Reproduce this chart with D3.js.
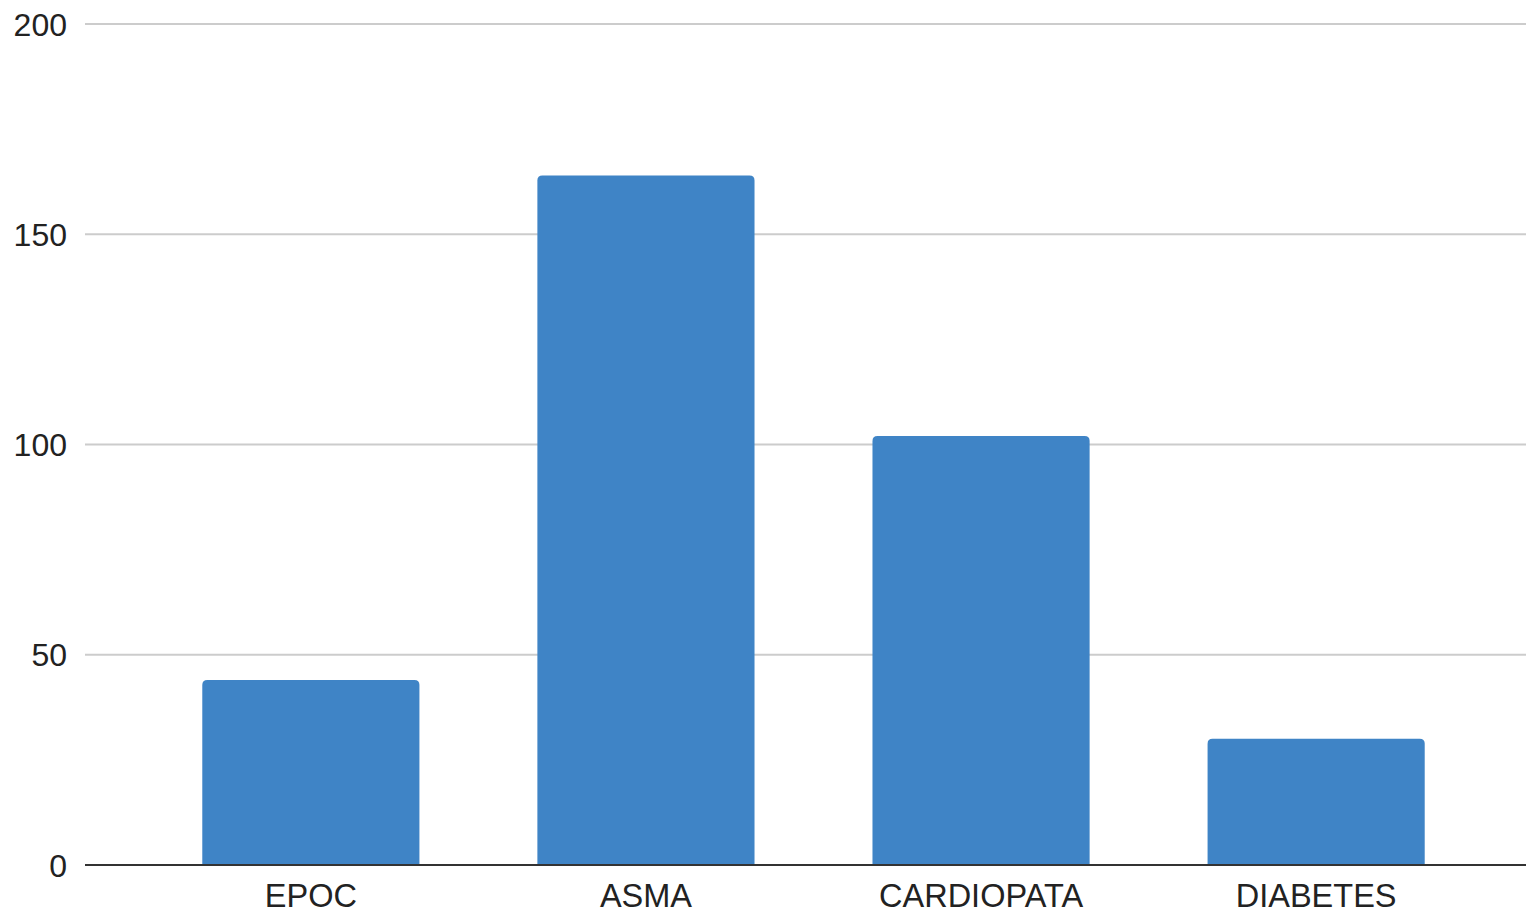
<!DOCTYPE html>
<html>
<head>
<meta charset="utf-8">
<script src="https://cdn.jsdelivr.net/npm/d3@7"></script>
<style>
  html, body { margin: 0; padding: 0; background: #fff; }
  svg { display: block; }
  text { font-family: "Liberation Sans", Arial, sans-serif; fill: #222; }
</style>
</head>
<body>
<svg id="chart" width="1526" height="913"></svg>
<script>
// Categories and counts
const categories = ["EPOC", "ASMA", "CARDIOPATA", "DIABETES"];
const values = [44, 164, 102, 30];
const yTicks = [0, 50, 100, 150, 200];

const W = 1526, H = 913;
const plot = { left: 85, right: 1542, top: 24, bottom: 865 };

const svg = d3.select("#chart");

const x = d3.scaleBand()
  .domain(categories)
  .range([plot.left, plot.right])
  .paddingInner(0.352)
  .paddingOuter(0.35);

const y = d3.scaleLinear()
  .domain([0, 200])
  .range([plot.bottom, plot.top]);

// Horizontal gridlines
svg.append("g")
  .selectAll("line")
  .data(yTicks.filter(d => d !== 0))
  .join("line")
  .attr("x1", plot.left)
  .attr("x2", plot.right)
  .attr("y1", d => y(d))
  .attr("y2", d => y(d))
  .attr("stroke", "#cccccc")
  .attr("stroke-width", 2);

// Y tick labels
svg.append("g")
  .selectAll("text")
  .data(yTicks)
  .join("text")
  .attr("x", 67)
  .attr("y", d => y(d))
  .attr("dy", "0.36em")
  .attr("text-anchor", "end")
  .style("font-size", "32px")
  .text(d => d);

// Bars with rounded top corners
const r = 5;
function barPath(x0, w, yTop, yBase) {
  return `M${x0},${yBase}V${yTop + r}Q${x0},${yTop} ${x0 + r},${yTop}` +
         `H${x0 + w - r}Q${x0 + w},${yTop} ${x0 + w},${yTop + r}V${yBase}Z`;
}

svg.append("g")
  .selectAll("path")
  .data(categories.map((c, i) => ({ c, v: values[i] })))
  .join("path")
  .attr("d", d => barPath(x(d.c), x.bandwidth(), y(d.v), y(0)))
  .attr("fill", "#3f84c6");

// Baseline
svg.append("line")
  .attr("x1", plot.left)
  .attr("x2", plot.right)
  .attr("y1", y(0))
  .attr("y2", y(0))
  .attr("stroke", "#333333")
  .attr("stroke-width", 2);

// Category labels
svg.append("g")
  .selectAll("text")
  .data(categories)
  .join("text")
  .attr("x", d => x(d) + x.bandwidth() / 2)
  .attr("y", 907)
  .attr("text-anchor", "middle")
  .style("font-size", "32.5px")
  .text(d => d);
</script>
</body>
</html>
